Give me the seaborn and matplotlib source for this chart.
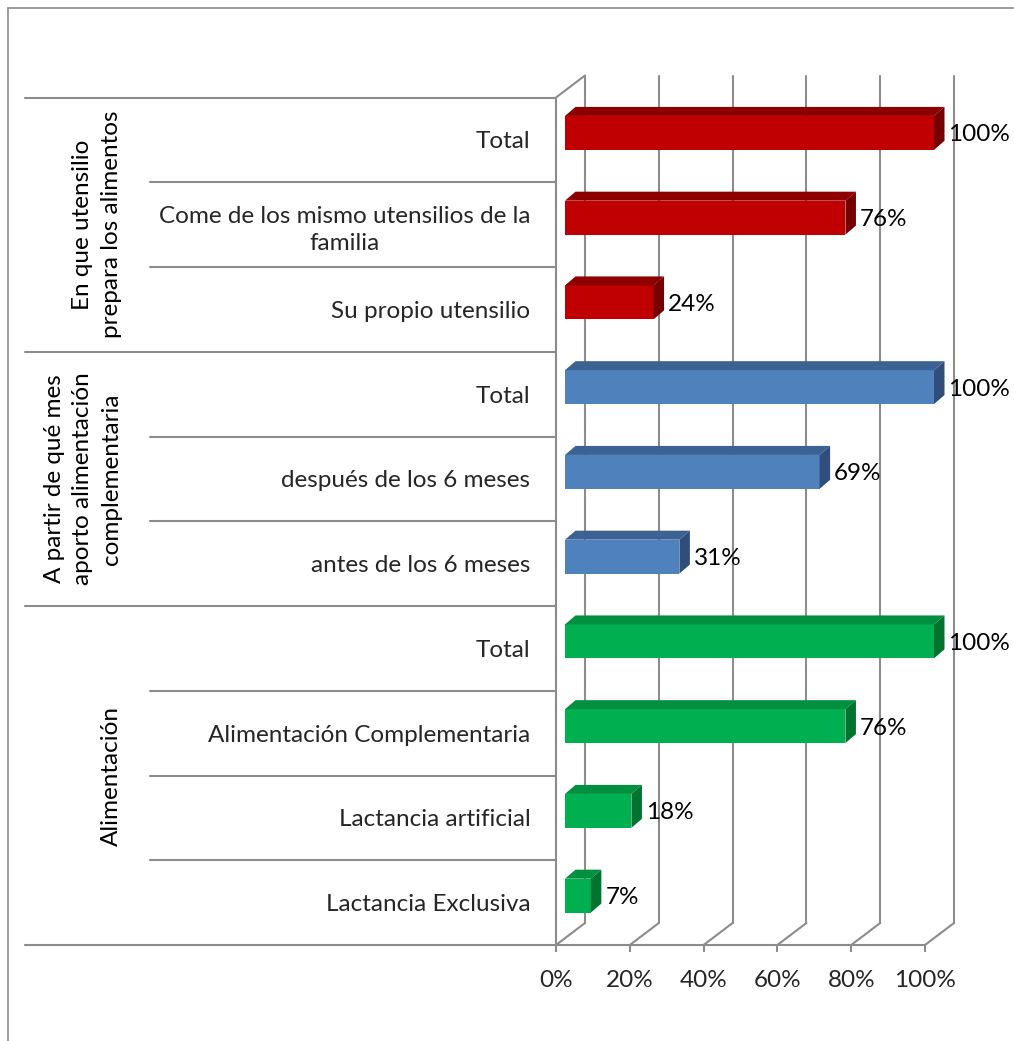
import pandas as pd
import matplotlib
matplotlib.use("Agg")
import matplotlib.pyplot as plt
import seaborn as sns
from matplotlib.transforms import Affine2D, IdentityTransform, blended_transform_factory
from matplotlib.patches import Polygon
from matplotlib.lines import Line2D

# Data (top to bottom as in the chart)
groups = ["En que utensilio\nprepara los alimentos",
          "A partir de qué mes\naporto alimentación\ncomplementaria",
          "Alimentación"]
group_of_row = [0, 0, 0, 1, 1, 1, 2, 2, 2, 2]
categories = ["Total", "Come de los mismo utensilios de la\nfamilia", "Su propio utensilio",
              "Total", "después de los 6 meses", "antes de los 6 meses",
              "Total", "Alimentación Complementaria", "Lactancia artificial", "Lactancia Exclusiva"]
values = [100, 76, 24, 100, 69, 31, 100, 76, 18, 7]
xticks = [0, 20, 40, 60, 80, 100]

front_col = {0: "#C00000", 1: "#4F81BD", 2: "#00B050"}
top_col = {0: "#8E0000", 1: "#3B6293", 2: "#00903F"}
side_col = {0: "#760000", 1: "#2F4E7B", 2: "#00732F"}
gcol = "#8C8C8C"

df = pd.DataFrame({
    "row": [str(i) for i in range(len(values))],
    "group": [str(g) for g in group_of_row],
    "value": values,
})

sns.set_theme(style="white")
plt.rcParams["font.family"] = ["Lato", "DejaVu Sans"]
FS = 17.5

W, H = 1014, 1041
fig = plt.figure(figsize=(W / 100, H / 100), dpi=100)
ax = fig.add_axes([556 / W, (H - 945) / H, 369 / W, (945 - 97.5) / H])

sns.barplot(data=df, x="value", y="row", hue="group", orient="h", dodge=False,
            palette={str(k): v for k, v in front_col.items()}, width=0.4,
            linewidth=0, legend=False, ax=ax, zorder=3)
ax.set_xlim(0, 100)
ax.set_ylim(9.5, -0.5)
ax.set_autoscale_on(False)
ax.set_facecolor("none")

# 3D-ish offsets in pixels
BACK = (29, 22)
BAR_OFF = (9, 7)
DEPTH = (10.5, 9)


def px(x, y, dx=0, dy=0):
    X, Y = ax.transData.transform((x, y))
    return (X + dx, Y + dy)


def add_line(p, q, **kw):
    ax.add_line(Line2D([p[0], q[0]], [p[1], q[1]], transform=IdentityTransform(),
                       clip_on=False, color=gcol, lw=1.5, **kw))


# back wall gridlines and floor diagonals
for t in xticks:
    fb = px(t, 9.5)
    bb = (fb[0] + BACK[0], fb[1] + BACK[1])
    bt = px(t, -0.5, *BACK)
    add_line(fb, bb, zorder=1)
    add_line(bb, bt, zorder=1)
add_line(px(0, -0.5), px(0, -0.5, *BACK), zorder=1)

# bars: shift front faces and add top / side faces
bar_tr = ax.transData + Affine2D().translate(*BAR_OFF)
for patch in ax.patches:
    w = patch.get_width()
    y0 = patch.get_y()
    h = patch.get_height()
    i = int(round(y0 + h / 2))
    g = group_of_row[i]
    patch.set_transform(bar_tr)
    patch.set_clip_on(False)
    patch.set_facecolor(front_col[g])
    tl = px(0, y0, *BAR_OFF)
    tr = px(w, y0, *BAR_OFF)
    br = px(w, y0 + h, *BAR_OFF)
    sh = lambda p: (p[0] + DEPTH[0], p[1] + DEPTH[1])
    ax.add_patch(Polygon([tl, tr, sh(tr), sh(tl)], closed=True, transform=IdentityTransform(),
                         facecolor=top_col[g], edgecolor="none", clip_on=False, zorder=3))
    ax.add_patch(Polygon([tr, br, sh(br), sh(tr)], closed=True, transform=IdentityTransform(),
                         facecolor=side_col[g], edgecolor="none", clip_on=False, zorder=3))
    ax.text(w, i, f"{w:.0f}%", transform=ax.transData + Affine2D().translate(BAR_OFF[0] + DEPTH[0] + 4, 5),
            ha="left", va="center", fontsize=FS, color="black", zorder=5, clip_on=False)

# axes
for s in ["top", "right"]:
    ax.spines[s].set_visible(False)
for s in ["left", "bottom"]:
    ax.spines[s].set_color(gcol)
    ax.spines[s].set_linewidth(1.5)
    ax.spines[s].set_zorder(2)
ax.set_xticks(xticks, [f"{t}%" for t in xticks])
ax.tick_params(axis="x", length=5, width=1.5, color=gcol, pad=13, labelsize=FS, bottom=True)
ax.set_yticks(range(len(categories)), categories)
ax.tick_params(axis="y", length=0, pad=18.5, labelsize=FS)
for lbl in ax.get_yticklabels():
    lbl.set_multialignment("center")
    lbl.set_linespacing(1.4)
ax.set_xlabel("")
ax.set_ylabel("")

# category separators and group labels
btr = blended_transform_factory(fig.transFigure, ax.transData)
for b in range(len(values) + 1):
    y = b - 0.5
    is_group = b in (0, 3, 6, 10)
    x0 = 25 / W if is_group else 150 / W
    ax.add_line(Line2D([x0, 556 / W], [y, y], transform=btr, color=gcol, lw=1.5, clip_on=False))

group_centers = [1.0, 4.0, 7.5]
for gname, yc in zip(groups, group_centers):
    ax.text(122 / W, yc, gname, transform=btr, rotation=90, ha="right", va="center",
            multialignment="center", linespacing=1.45, fontsize=FS, color="black")

# chart frame
fig.add_artist(Line2D([8 / W, 8 / W], [0, 1 - 8 / H], color=gcol, lw=1.2))
fig.add_artist(Line2D([8 / W, 1], [1 - 8 / H, 1 - 8 / H], color=gcol, lw=1.2))

fig.savefig("out.png", dpi=100, facecolor="white")
